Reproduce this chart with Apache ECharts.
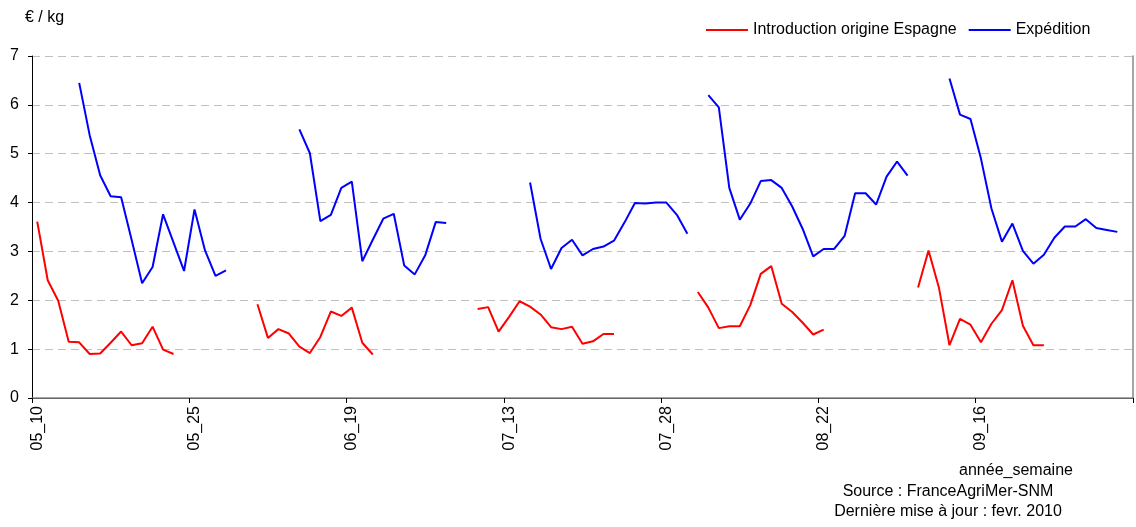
<!DOCTYPE html>
<html>
<head>
<meta charset="utf-8">
<script src="https://cdn.jsdelivr.net/npm/echarts@6/dist/echarts.min.js"></script>
<style>
html,body{margin:0;padding:0;background:#fff;}
#chart{width:1136px;height:527px;}
</style>
</head>
<body>
<div id="chart"></div>
<script>
// Categories: year_week, weeks 10..30 for each year
const years = ['05', '06', '07', '08', '09'];
const weeks = [10,11,12,13,14,15,16,17,18,19,20,21,22,23,24,25,26,27,28,29,30];

// Introduction origine Espagne (€/kg), one array per year, weeks 10..30
const intro05 = [3.61,2.41,1.99,1.15,1.14,0.90,0.91,1.13,1.36,1.08,1.12,1.46,0.99,0.90,null,null,null,null,null,null,null];
const intro06 = [1.92,1.23,1.41,1.32,1.05,0.92,1.25,1.77,1.68,1.85,1.13,0.89,null,null,null,null,null,null,null,null,null];
const intro07 = [1.82,1.86,1.36,1.66,1.98,1.87,1.71,1.45,1.41,1.46,1.11,1.16,1.31,1.31,null,null,null,null,null,null,null];
const intro08 = [2.17,1.85,1.43,1.47,1.47,1.90,2.54,2.70,1.93,1.76,1.54,1.30,1.40,null,null,null,null,null,null,null,null];
const intro09 = [2.26,3.02,2.25,1.08,1.62,1.50,1.14,1.52,1.80,2.41,1.48,1.08,1.08,null,null,null,null,null,null,null,null];

// Expédition (€/kg), weeks 10..30
const exped05 = [null,null,null,null,6.45,5.38,4.56,4.13,4.11,3.24,2.35,2.68,3.76,3.18,2.60,3.86,3.02,2.50,2.61,null,null];
const exped06 = [null,null,null,null,5.50,5.01,3.62,3.75,4.30,4.43,2.80,3.24,3.67,3.77,2.71,2.53,2.92,3.60,3.58,null,null];
const exped07 = [null,null,null,null,null,4.41,3.26,2.64,3.07,3.24,2.92,3.05,3.10,3.22,3.59,3.99,3.98,4.00,4.00,3.75,3.36];
const exped08 = [null,6.20,5.95,4.30,3.65,3.98,4.44,4.46,4.30,3.92,3.46,2.90,3.05,3.05,3.32,4.19,4.19,3.96,4.53,4.84,4.55];
const exped09 = [null,null,null,6.54,5.80,5.71,4.90,3.88,3.20,3.57,3.01,2.75,2.93,3.28,3.51,3.51,3.66,3.48,3.44,3.40,null];

const yTicks = [0,1,2,3,4,5,6,7];

const categories = [];
years.forEach(y => weeks.forEach(w => categories.push(y + '_' + w)));
const introData = [].concat(intro05, intro06, intro07, intro08, intro09);
const expedData = [].concat(exped05, exped06, exped07, exped08, exped09);

const FONT = 'Liberation Sans, Arial, sans-serif';
const chart = echarts.init(document.getElementById('chart'), null, {renderer: 'canvas'});
chart.setOption({
  animation: false,
  backgroundColor: '#fff',
  textStyle: {fontFamily: FONT, color: '#000'},
  grid: {left: 32, right: 3, top: 56, bottom: 129, containLabel: false},
  legend: {
    left: 706, top: 22, padding: 0,
    icon: 'rect', itemWidth: 42, itemHeight: 2, itemGap: 12,
    textStyle: {fontFamily: FONT, fontSize: 16, color: '#000'},
    data: ['Introduction origine Espagne', 'Expédition']
  },
  xAxis: [{
    type: 'category',
    data: categories,
    boundaryGap: true,
    axisLine: {lineStyle: {color: '#000', width: 1}},
    axisTick: {show: true, interval: 14, length: 5, lineStyle: {color: '#000'}},
    axisLabel: {interval: 14, rotate: 90, fontSize: 16, color: '#000', fontFamily: FONT, margin: 8},
    splitLine: {show: false}
  }, {
    type: 'category',
    position: 'top',
    data: categories,
    axisLine: {show: true, lineStyle: {color: '#888', width: 1.5}},
    axisTick: {show: false},
    axisLabel: {show: false},
    splitLine: {show: false}
  }],
  yAxis: [{
    type: 'value',
    min: 0, max: 7, interval: 1,
    axisLine: {show: true, lineStyle: {color: '#000', width: 1}},
    axisTick: {show: true, length: 4, lineStyle: {color: '#000'}},
    axisLabel: {fontSize: 16, color: '#000', fontFamily: FONT, margin: 13,
      formatter: v => yTicks.indexOf(v) >= 0 ? String(v) : ''},
    splitLine: {show: true, lineStyle: {color: '#c0c0c0', type: [8, 5], width: 1}}
  }, {
    type: 'value',
    position: 'right',
    min: 0, max: 7, interval: 1,
    axisLine: {show: true, lineStyle: {color: '#888', width: 1.5}},
    axisTick: {show: false},
    axisLabel: {show: false},
    splitLine: {show: false}
  }],
  graphic: [
    {type: 'text', left: 25, top: 10, style: {text: '€ / kg', font: '16px ' + FONT, fill: '#000'}},
    {type: 'text', x: 1016, y: 471, style: {text: 'année_semaine', font: '16px ' + FONT, fill: '#000', align: 'center', verticalAlign: 'middle'}},
    {type: 'text', x: 948, y: 492, style: {text: 'Source : FranceAgriMer-SNM', font: '16px ' + FONT, fill: '#000', align: 'center', verticalAlign: 'middle'}},
    {type: 'text', x: 948, y: 512, style: {text: 'Dernière mise à jour : fevr. 2010', font: '16px ' + FONT, fill: '#000', align: 'center', verticalAlign: 'middle'}}
  ],
  series: [{
    name: 'Introduction origine Espagne',
    type: 'line',
    data: introData,
    connectNulls: false,
    showSymbol: false,
    symbol: 'none',
    lineStyle: {color: '#ff0000', width: 2},
    itemStyle: {color: '#ff0000'}
  }, {
    name: 'Expédition',
    type: 'line',
    data: expedData,
    connectNulls: false,
    showSymbol: false,
    symbol: 'none',
    lineStyle: {color: '#0000ff', width: 2},
    itemStyle: {color: '#0000ff'}
  }]
});
</script>
</body>
</html>
